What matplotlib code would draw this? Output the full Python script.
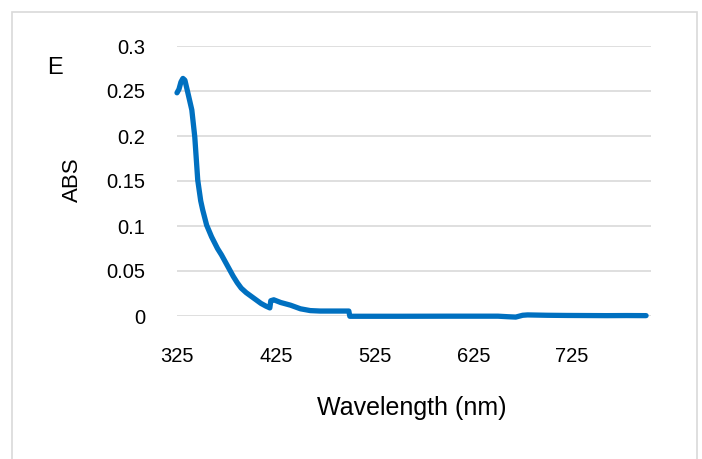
import matplotlib.pyplot as plt
from matplotlib.patches import Rectangle

plt.rcParams['font.family'] = ['Liberation Sans', 'DejaVu Sans']

wavelength = [325, 327, 329, 331, 333, 336, 340, 343, 346, 349, 351, 355, 360, 366,
              370, 374, 378, 382, 386, 390, 395, 400, 405, 410, 415, 419, 420, 423, 430,
              440, 450, 460, 470, 480, 490, 499, 500, 550, 600, 650, 660, 668, 675,
              680, 700, 720, 740, 760, 780, 800]
absorb = [0.248, 0.252, 0.260, 0.264, 0.262, 0.248, 0.229, 0.199, 0.151, 0.128, 0.118,
          0.101, 0.088, 0.075, 0.068, 0.060, 0.052, 0.044, 0.037, 0.031, 0.026, 0.022,
          0.018, 0.014, 0.011, 0.009, 0.017, 0.018, 0.015, 0.012, 0.008, 0.006, 0.0055,
          0.0055, 0.0055, 0.0055, -0.0003, -0.0003, -0.0002, -0.0002, -0.0008, -0.0012,
          0.0008, 0.0012, 0.0008, 0.0006, 0.0005, 0.0004, 0.0005, 0.0004]

xticks = [325, 425, 525, 625, 725]
yticks = [0, 0.05, 0.1, 0.15, 0.2, 0.25, 0.3]
ylabels = ["0", "0.05", "0.1", "0.15", "0.2", "0.25", "0.3"]

fig = plt.figure(figsize=(7.02, 4.59), dpi=100)
fig.patches.append(Rectangle((12 / 702, -0.05), (697 - 12) / 702, 1.05 - 12 / 459,
                             transform=fig.transFigure, fill=False,
                             edgecolor="#D9D9D9", linewidth=1.2))

ax = fig.add_axes([177 / 702, 1 - 316 / 459, (651 - 177) / 702, (316 - 46) / 459])
ax.plot(wavelength, absorb, color="#0070C0", linewidth=3.8, clip_on=False,
        solid_capstyle="round", solid_joinstyle="round", zorder=3)

ax.set_xlim(325, 805)
ax.set_ylim(0, 0.3)
ax.set_xticks(xticks)
ax.set_yticks(yticks)
ax.set_yticklabels(ylabels)
ax.tick_params(length=0, labelsize=14.5, colors="black")
ax.tick_params(axis="x", pad=22)
ax.tick_params(axis="y", pad=23)
ax.grid(axis="y", color="#D9D9D9", linewidth=1.2)
ax.set_axisbelow(True)
for s in ax.spines.values():
    s.set_visible(False)

ax.set_xlabel("Wavelength (nm)", fontsize=18, va="center")
ax.xaxis.set_label_coords(412 / 702, 1 - 408 / 459, transform=fig.transFigure)
ax.set_ylabel("ABS", fontsize=16, va="center")
ax.yaxis.set_label_coords(72 / 702, 1 - 180 / 459, transform=fig.transFigure)
fig.text(55 / 702, 1 - 68 / 459, "E", fontsize=17, ha="center", va="center")

fig.savefig("out.png", dpi=100)
